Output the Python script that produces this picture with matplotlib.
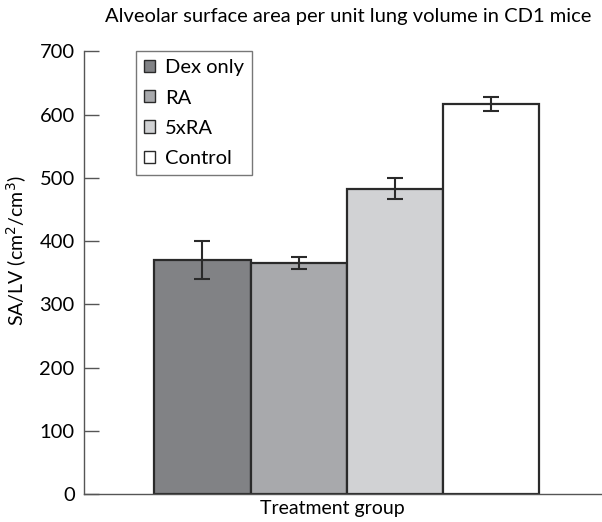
import numpy as np
import matplotlib.pyplot as plt
from matplotlib.patches import Patch

plt.rcParams['font.family'] = ['Lato', 'DejaVu Sans']

groups = ["Dex only", "RA", "5xRA", "Control"]
sa_lv = [370, 365, 483, 617]
sa_lv_err = [30, 9.5, 16, 11.5]
colours = ["#818285", "#a8a9ac", "#d1d2d4", "#ffffff"]

fig = plt.figure(figsize=(6.02, 5.22), dpi=100)
ax = fig.add_axes([0.139, 0.0536, 0.861, 0.848])

x = np.arange(len(groups))
ax.bar(x, sa_lv, width=1.0, color=colours, edgecolor="#2a2a2a", linewidth=1.6,
       yerr=sa_lv_err, capsize=6,
       error_kw=dict(ecolor="#2a2a2a", elinewidth=1.5, capthick=1.5))

ax.set_xlim(-1.234, 4.151)
ax.set_ylim(0, 700)
ax.set_yticks(np.arange(0, 701, 100))
ax.set_xticks([])
ax.tick_params(axis="y", direction="in", length=11, width=1, color="#555555",
               labelsize=14.5, pad=6.5)
for side in ["top", "right"]:
    ax.spines[side].set_visible(False)
for side in ["left", "bottom"]:
    ax.spines[side].set_color("#555555")
    ax.spines[side].set_linewidth(1)

ax.set_ylabel("SA/LV (cm$^2$/cm$^3$)", fontsize=14)
ax.yaxis.set_label_coords(-0.105, 0.55)
ax.set_xlabel("Treatment group", fontsize=14)
ax.xaxis.set_label_coords(0.48, -0.014)
fig.text(0.578, 0.968, "Alveolar surface area per unit lung volume in CD1 mice",
         ha="center", va="center", fontsize=14.5)

handles = [Patch(facecolor=c, edgecolor="#2a2a2a", linewidth=1) for c in colours]
leg = ax.legend(handles, groups, loc="upper left", bbox_to_anchor=(0.101, 1.0),
                fontsize=14.5, frameon=True, fancybox=False, handlelength=0.55,
                handleheight=0.55, handletextpad=0.5, borderpad=0.4,
                labelspacing=0.65, borderaxespad=0.0)
leg.get_frame().set_edgecolor("#555555")
leg.get_frame().set_linewidth(1)

fig.savefig("out.png", dpi=100)
